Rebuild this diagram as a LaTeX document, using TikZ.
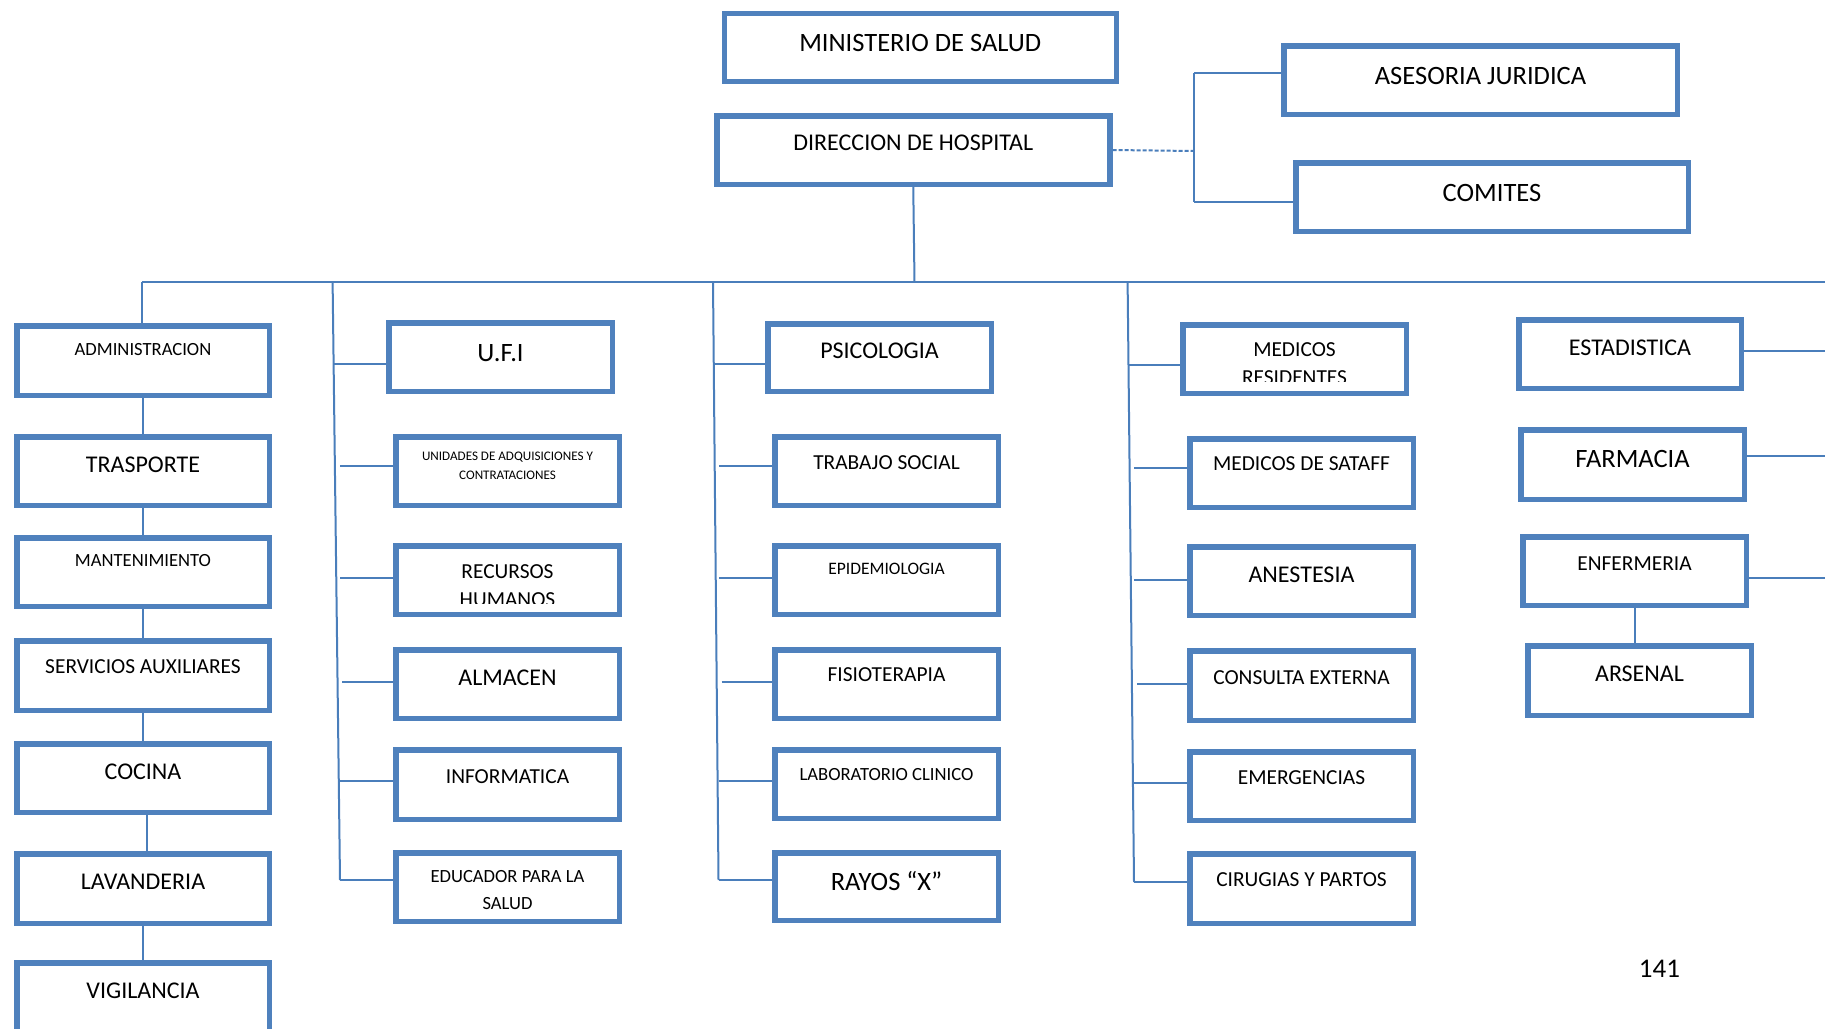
\documentclass[tikz,border=0pt]{standalone}
\usepackage{fontspec}
\setmainfont{Carlito}
\usetikzlibrary{calc}
\definecolor{boxblue}{HTML}{4F81BD}
\definecolor{lineblue}{HTML}{4A7EBB}
\pgfdeclarelayer{bg}
\pgfdeclarelayer{paper}
\pgfsetlayers{paper,bg,main}
\tikzset{
  obx/.style={draw=boxblue, line width=5.5pt, fill=white, inner sep=0pt, rectangle},
  txt/.style={inner sep=0pt, text=black, anchor=base},
  conn/.style={draw=lineblue, line width=2pt},
  dconn/.style={draw=lineblue, line width=2pt, dash pattern=on 4pt off 2pt},
}
% name, x1, y1, x2, y2, font size, text-centre offset from top, text
\newcommand{\obox}[8]{%
  \node[obx, minimum width={(#4)-(#2)-5.5}, minimum height={(#5)-(#3)-5.5}] (#1) at ({((#2)+(#4))/2},{((#3)+(#5))/2}) {};
  \node[txt, font=\fontsize{#6}{#6}\selectfont] (#1-t) at ({((#2)+(#4))/2},{(#3)+(#7)+0.322*(#6)}) {#8};
}
% name, x, y(centre of caps), size, text
\newcommand{\oline}[5]{%
  \node[txt, font=\fontsize{#4}{#4}\selectfont] (#1) at ({#2},{(#3)+0.322*(#4)}) {#5};
}
\begin{document}
\begin{tikzpicture}[x=1pt,y=-1pt]
\begin{pgfonlayer}{paper}
\fill[white] (0,0) rectangle (1825,1028);
\end{pgfonlayer}
\useasboundingbox (0,0) rectangle (1825,1028);

% top
\obox{min}{721.5}{10.7}{1119}{84}{26.5}{32}{MINISTERIO DE SALUD}
\obox{dir}{714}{113}{1112.5}{187}{24}{29.7}{DIRECCION DE HOSPITAL}
\obox{ase}{1281}{43}{1680}{117}{26.5}{33}{ASESORIA JURIDICA}
\obox{com}{1293}{160}{1691}{234}{26.5}{32.7}{COMITES}

% column 1
\obox{adm}{14}{323}{272}{398}{18.6}{27}{ADMINISTRACION}
\obox{tra}{14}{434}{272}{508}{24}{31}{TRASPORTE}
\obox{man}{14}{535}{272}{609}{18.6}{26}{MANTENIMIENTO}
\obox{ser}{14}{638}{272}{713}{21.4}{29}{SERVICIOS AUXILIARES}
\obox{coc}{14}{741}{272}{815}{24}{30.7}{COCINA}
\obox{lav}{14}{851}{272}{926}{24}{30.7}{LAVANDERIA}
\obox{vig}{14}{960}{272}{1045}{24}{30.7}{VIGILANCIA}

% column 2
\obox{ufi}{386}{320}{615}{394}{26.5}{33}{U.F.I}
\obox{uni}{393}{434}{622}{508}{13.1}{22.7}{UNIDADES DE ADQUISICIONES Y}
\oline{uni-t2}{507.5}{475.7}{13.1}{CONTRATACIONES}
\obox{rec}{393}{543}{622}{617}{21.4}{28.7}{RECURSOS}
\begin{scope}
  \clip (395,546) rectangle (620,603.3);
  \oline{rec-t2}{507.5}{600}{21.4}{HUMANOS}
\end{scope}
\obox{alm}{393}{647}{622}{721}{24}{30.7}{ALMACEN}
\obox{inf}{393}{747}{622}{822}{21.4}{29.7}{INFORMATICA}
\obox{edu}{393}{850}{622}{924}{18.6}{26.7}{EDUCADOR PARA LA}
\oline{edu-t2}{507.5}{903.3}{18.6}{SALUD}

% column 3
\obox{psi}{765}{321}{994}{394}{24}{29.7}{PSICOLOGIA}
\obox{tso}{772}{434}{1001}{508}{21.4}{28.7}{TRABAJO SOCIAL}
\obox{epi}{772}{543}{1001}{617}{17.5}{26}{EPIDEMIOLOGIA}
\obox{fis}{772}{647}{1001}{721}{21.4}{28}{FISIOTERAPIA}
\obox{lab}{772}{747}{1001}{821}{18.6}{27}{LABORATORIO CLINICO}
\obox{ray}{772}{850}{1001}{923}{26.5}{31.7}{RAYOS “X”}

% column 4
\obox{mre}{1180}{322}{1409}{396}{21.4}{28}{MEDICOS}
\begin{scope}
  \clip (1182,325) rectangle (1407,381.7);
  \oline{mre-t2}{1294.5}{378}{21.4}{RESIDENTES}
\end{scope}
\obox{msf}{1187}{436}{1416}{510}{21.4}{28}{MEDICOS DE SATAFF}
\obox{ane}{1187}{544}{1416}{618}{24}{30.3}{ANESTESIA}
\obox{cex}{1187}{648}{1416}{723}{21.4}{29.7}{CONSULTA EXTERNA}
\obox{eme}{1187}{749}{1416}{823}{21.4}{28.3}{EMERGENCIAS}
\obox{cir}{1187}{851}{1416}{926}{21.4}{28.3}{CIRUGIAS Y PARTOS}

% column 5
\obox{est}{1516}{317}{1744}{391}{24}{30.3}{ESTADISTICA}
\obox{far}{1518}{427}{1747}{502}{26.5}{32.3}{FARMACIA}
\obox{enf}{1520}{534}{1749}{608}{21.4}{29.3}{ENFERMERIA}
\obox{ars}{1525}{643}{1754}{718}{24}{30.3}{ARSENAL}

% page number
\oline{pg}{1659.5}{968.5}{27}{141}

% coordinates
\coordinate (hub) at (914.5,282);
\coordinate (mainL) at (142,282);
\coordinate (mainR) at (1825,282);
\coordinate (sideJ) at (1194,151);
\coordinate (sideT) at (1194,73);
\coordinate (sideB) at (1194,202);
\coordinate (t2a) at (332.6,282);
\coordinate (t2b) at (340,880);
\coordinate (t3a) at (713,282);
\coordinate (t3b) at (718.5,880);
\coordinate (t4a) at (1127.6,282);
\coordinate (t4b) at (1134,882);
\coordinate (j2a) at (333.6,364);
\coordinate (j2b) at (340,466);
\coordinate (j2c) at (340,578);
\coordinate (j2d) at (342,682);
\coordinate (j2e) at (340,781);
\coordinate (j2f) at (340,880);
\coordinate (j3a) at (713.5,364);
\coordinate (j3b) at (719,466);
\coordinate (j3c) at (719,578);
\coordinate (j3d) at (721.5,682);
\coordinate (j3e) at (718.5,781);
\coordinate (j3f) at (718.5,880);
\coordinate (j4a) at (1128.5,365);
\coordinate (j4b) at (1134,468);
\coordinate (j4c) at (1134,580);
\coordinate (j4d) at (1137,684);
\coordinate (j4e) at (1134,783);
\coordinate (j4f) at (1134,882);
\coordinate (r1) at (1825,351);
\coordinate (r2) at (1825,456);
\coordinate (r3) at (1825,578);

\begin{pgfonlayer}{bg}
  \draw[conn] (dir.south) -- (hub);
  \draw[conn] (mainL) -- (mainR);
  \draw[dconn] (dir.east) -- (sideJ);
  \draw[conn] (sideT) -- (sideB);
  \draw[conn] (sideT) -- (ase.west |- sideT);
  \draw[conn] (sideB) -- (com.west |- sideB);
  % column 1 chain
  \draw[conn] (mainL) -- (mainL |- adm.north);
  \draw[conn] (adm.south) -- (adm.south |- tra.north);
  \draw[conn] (tra.south) -- (tra.south |- man.north);
  \draw[conn] (man.south) -- (man.south |- ser.north);
  \draw[conn] (ser.south) -- (ser.south |- coc.north);
  \draw[conn] ([xshift=4pt]coc.south) -- ([xshift=4pt]coc.south |- lav.north);
  \draw[conn] (lav.south) -- (lav.south |- vig.north);
  % column 2
  \draw[conn] (t2a) -- (t2b);
  \draw[conn] (j2a) -- (ufi.west |- j2a);
  \draw[conn] (j2b) -- (uni.west |- j2b);
  \draw[conn] (j2c) -- (rec.west |- j2c);
  \draw[conn] (j2d) -- (alm.west |- j2d);
  \draw[conn] (j2e) -- (inf.west |- j2e);
  \draw[conn] (j2f) -- (edu.west |- j2f);
  % column 3
  \draw[conn] (t3a) -- (t3b);
  \draw[conn] (j3a) -- (psi.west |- j3a);
  \draw[conn] (j3b) -- (tso.west |- j3b);
  \draw[conn] (j3c) -- (epi.west |- j3c);
  \draw[conn] (j3d) -- (fis.west |- j3d);
  \draw[conn] (j3e) -- (lab.west |- j3e);
  \draw[conn] (j3f) -- (ray.west |- j3f);
  % column 4
  \draw[conn] (t4a) -- (t4b);
  \draw[conn] (j4a) -- (mre.west |- j4a);
  \draw[conn] (j4b) -- (msf.west |- j4b);
  \draw[conn] (j4c) -- (ane.west |- j4c);
  \draw[conn] (j4d) -- (cex.west |- j4d);
  \draw[conn] (j4e) -- (eme.west |- j4e);
  \draw[conn] (j4f) -- (cir.west |- j4f);
  % column 5
  \draw[conn] (est.east |- r1) -- (r1);
  \draw[conn] (far.east |- r2) -- (r2);
  \draw[conn] (enf.east |- r3) -- (r3);
  \draw[conn] (enf.south) -- (enf.south |- ars.north);
\end{pgfonlayer}
\end{tikzpicture}
\end{document}
